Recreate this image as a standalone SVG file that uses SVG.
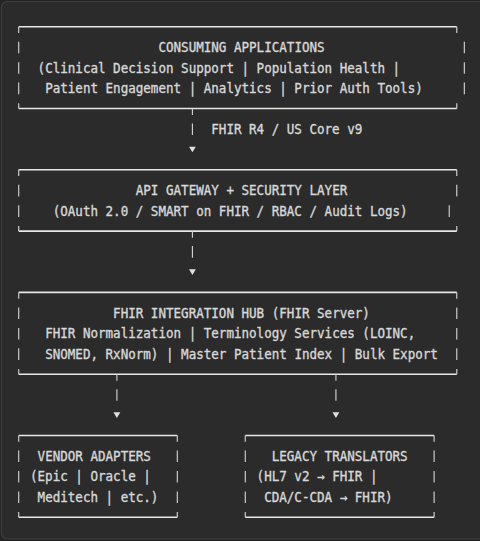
<svg xmlns="http://www.w3.org/2000/svg" width="480" height="541" viewBox="0 0 480 541">
  <style>
    .t { font-family: "DejaVu Sans Mono", "Liberation Mono", monospace; font-size: 13.5px; fill: #d8d8d8; stroke: #d8d8d8; stroke-width: 0.35; white-space: pre; }
    .h { stroke: #e8e8e8; stroke-width: 1.6; fill: none; }
    .v { stroke: #d0d0d0; stroke-width: 1.15; fill: none; }
    .a { fill: #e0e0e0; }
  </style>
  <defs>
    <polygon id="tri" points="-3.4,-2.7 3.4,-2.7 0,3" class="a"/>
  </defs>
  <rect x="0" y="0" width="480" height="541" fill="#242424"/>
  <rect x="1.5" y="1.5" width="495" height="537.5" rx="6" fill="#2b2b2b" stroke="#3e3e3e" stroke-width="1.2"/>

  <g id="consuming-applications">
    <path class="h" d="M18.7 26.7H456.77M18.7 108.46H456.77"/>
    <path class="v" d="M18.7 26.7V33M456.77 26.7V33M18.7 108.46V103.2M456.77 108.46V103.2
      M18.7 41.7V53.3M464.33 41.7V53.3
      M18.7 62.2V73.8M464.33 62.2V73.8
      M18.7 82.6V94.2M464.33 82.6V94.2"/>
    <text class="t" x="158.43" y="52.1" textLength="166.17" lengthAdjust="spacingAndGlyphs">CONSUMING APPLICATIONS</text>
    <text class="t" x="37.58" y="72.6" textLength="362.54" lengthAdjust="spacingAndGlyphs">(Clinical Decision Support | Population Health |</text>
    <text class="t" x="45.13" y="93.0" textLength="377.65" lengthAdjust="spacingAndGlyphs">Patient Engagement | Analytics | Prior Auth Tools)</text>
  </g>

  <g id="api-gateway">
    <path class="h" d="M18.7 169.78H456.77M18.7 231.1H456.77"/>
    <path class="v" d="M18.7 169.78V176.1M456.77 169.78V176.1M18.7 231.1V225.9M456.77 231.1V225.9
      M18.7 184.8V196.4M456.77 184.8V196.4
      M18.7 205.3V216.9M449.22 205.3V216.9"/>
    <text class="t" x="135.77" y="195.2" textLength="211.48" lengthAdjust="spacingAndGlyphs">API GATEWAY + SECURITY LAYER</text>
    <text class="t" x="52.69" y="215.7" textLength="354.99" lengthAdjust="spacingAndGlyphs">(OAuth 2.0 / SMART on FHIR / RBAC / Audit Logs)</text>
  </g>

  <g id="fhir-integration-hub">
    <path class="h" d="M18.7 292.42H456.77M18.7 374.18H456.77"/>
    <path class="v" d="M18.7 292.42V298.7M456.77 292.42V298.7M18.7 374.18V369M456.77 374.18V369
      M18.7 307.5V319.1M456.77 307.5V319.1
      M18.7 327.9V339.5M456.77 327.9V339.5
      M18.7 348.3V359.9M456.77 348.3V359.9"/>
    <text class="t" x="113.11" y="317.9" textLength="256.80" lengthAdjust="spacingAndGlyphs">FHIR INTEGRATION HUB (FHIR Server)</text>
    <text class="t" x="45.13" y="338.3" textLength="370.10" lengthAdjust="spacingAndGlyphs">FHIR Normalization | Terminology Services (LOINC,</text>
    <text class="t" x="45.13" y="358.7" textLength="392.76" lengthAdjust="spacingAndGlyphs">SNOMED, RxNorm) | Master Patient Index | Bulk Export</text>
  </g>

  <g id="vendor-adapters">
    <path class="h" d="M18.7 435.5H177.31M18.7 517.26H177.31"/>
    <path class="v" d="M18.7 435.5V441.8M177.31 435.5V441.8M18.7 517.26V512.1M177.31 517.26V512.1
      M18.7 450.5V462.1M177.31 450.5V462.1
      M18.7 471V482.6M177.31 471V482.6
      M18.7 491.4V503M177.31 491.4V503"/>
    <text class="t" x="37.58" y="461.0" textLength="113.30" lengthAdjust="spacingAndGlyphs">VENDOR ADAPTERS</text>
    <text class="t" x="30.03" y="481.4" textLength="120.85" lengthAdjust="spacingAndGlyphs">(Epic | Oracle |</text>
    <text class="t" x="37.58" y="501.8" textLength="120.85" lengthAdjust="spacingAndGlyphs">Meditech | etc.)</text>
  </g>

  <g id="legacy-translators">
    <path class="h" d="M245.29 435.5H434.12M245.29 517.26H434.12"/>
    <path class="v" d="M245.29 435.5V441.8M434.12 435.5V441.8M245.29 517.26V512.1M434.12 517.26V512.1
      M245.29 450.5V462.1M434.12 450.5V462.1
      M245.29 471V482.6M434.12 471V482.6
      M245.29 491.4V503M434.12 491.4V503"/>
    <text class="t" x="271.72" y="461.0" textLength="135.95" lengthAdjust="spacingAndGlyphs">LEGACY TRANSLATORS</text>
    <text class="t" x="256.62" y="481.4" textLength="120.85" lengthAdjust="spacingAndGlyphs">(HL7 v2 → FHIR |</text>
    <text class="t" x="264.17" y="501.8" textLength="128.40" lengthAdjust="spacingAndGlyphs">CDA/C-CDA → FHIR)</text>
  </g>

  <g id="connectors">
    <path class="v" d="M192.42 108.46V115.1M192.42 123.5V135.1
      M192.42 231.1V237.7M192.42 246.1V257.7
      M116.89 374.18V380.8M116.89 389.2V400.8
      M335.93 374.18V380.8M335.93 389.2V400.8"/>
    <use href="#tri" x="192.42" y="149.34"/>
    <use href="#tri" x="192.42" y="271.98"/>
    <use href="#tri" x="116.89" y="415.06"/>
    <use href="#tri" x="335.93" y="415.06"/>
    <text class="t" x="211.29" y="134.0" textLength="151.06" lengthAdjust="spacingAndGlyphs">FHIR R4 / US Core v9</text>
  </g>
</svg>
